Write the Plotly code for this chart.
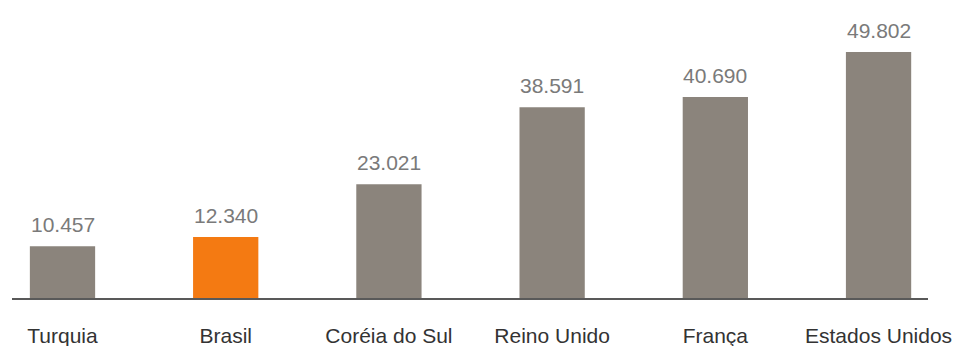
import plotly.graph_objects as go

# Countries and their values
paises = ["Turquia", "Brasil", "Coréia do Sul", "Reino Unido", "França", "Estados Unidos"]
valores = [10457, 12340, 23021, 38591, 40690, 49802]
rotulos = ["10.457", "12.340", "23.021", "38.591", "40.690", "49.802"]
destaque = "Brasil"

cinza = "#8b847c"
laranja = "#f47a12"
cores = [laranja if p == destaque else cinza for p in paises]

fonte = "Liberation Sans, Arial, sans-serif"

fig = go.Figure()
fig.add_trace(go.Bar(
    x=list(range(len(paises))),
    y=valores,
    width=0.4,
    marker=dict(color=cores, line=dict(width=0)),
    hoverinfo="skip",
))

# value labels above each bar
for i, (v, r) in enumerate(zip(valores, rotulos)):
    fig.add_annotation(
        x=i, y=v, text=r, showarrow=False,
        xanchor="center", yanchor="bottom", yshift=8,
        font=dict(family=fonte, size=21, color="#7a7a7a"),
    )

fig.update_layout(
    width=958, height=346,
    margin=dict(l=12, r=30, t=0, b=48),
    paper_bgcolor="white", plot_bgcolor="white",
    showlegend=False,
    xaxis=dict(
        range=[-0.3094, 5.303],
        tickmode="array",
        tickvals=list(range(len(paises))),
        ticktext=paises,
        tickfont=dict(family=fonte, size=21, color="#333333"),
        ticks="outside", ticklen=18, tickcolor="rgba(0,0,0,0)",
        showline=True, linecolor="#595959", linewidth=2,
        showgrid=False, zeroline=False, fixedrange=True,
    ),
    yaxis=dict(
        range=[0, 60300],
        visible=False, showgrid=False, zeroline=False, fixedrange=True,
    ),
)

fig.write_html("out.html")
